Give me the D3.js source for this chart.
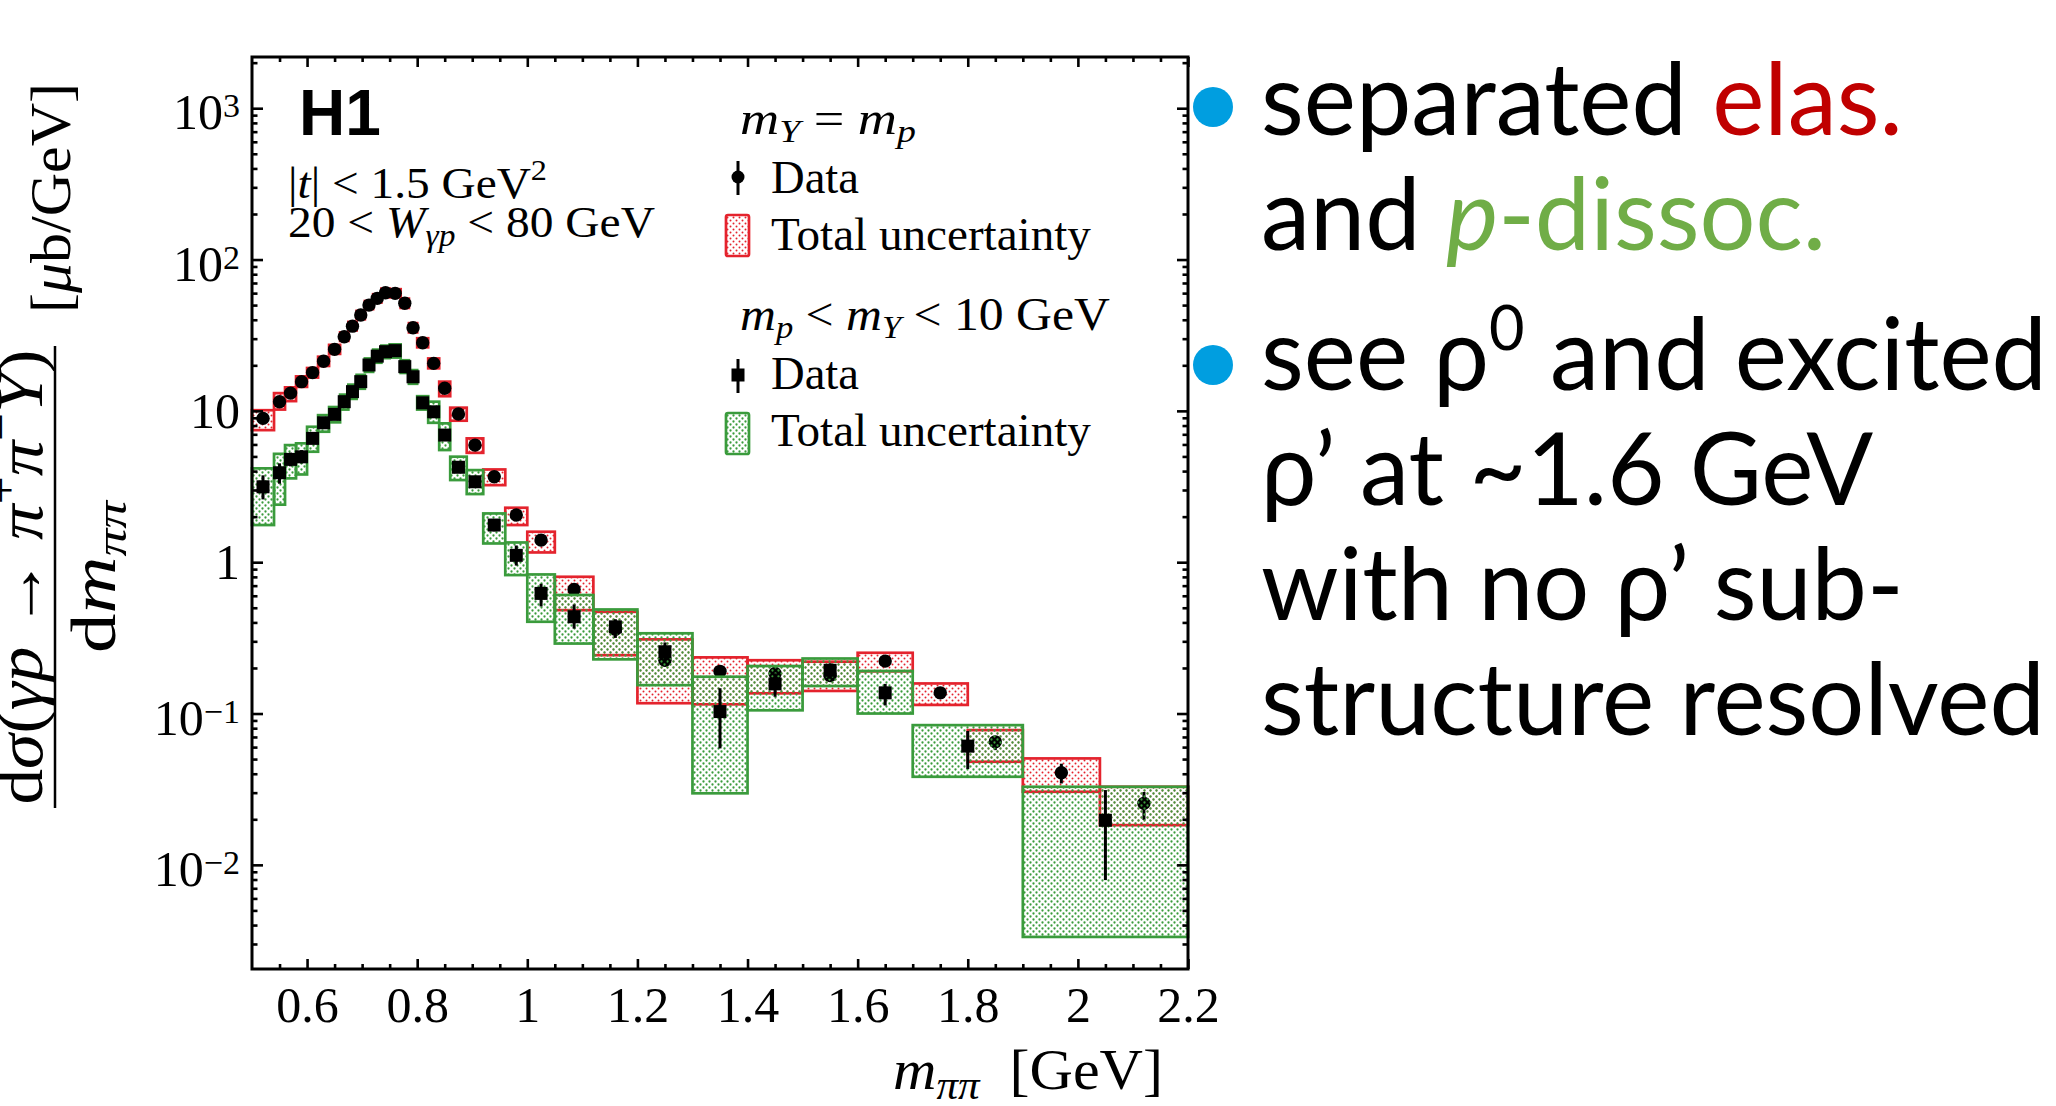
<!DOCTYPE html>
<html><head><meta charset="utf-8">
<script src="https://cdn.jsdelivr.net/npm/d3@7"></script>
<style>body{margin:0;background:#fff;} svg{display:block;} text{white-space:pre;}</style>
</head><body>
<svg id="c" width="2056" height="1106"></svg>
<script>
// ---------------- data ----------------
const xTickValues = [0.6, 0.8, 1.0, 1.2, 1.4, 1.6, 1.8, 2.0, 2.2];
const xTickLabels = ["0.6", "0.8", "1", "1.2", "1.4", "1.6", "1.8", "2", "2.2"];
const yTickValues = [0.01, 0.1, 1, 10, 100, 1000];
const yTickBase   = ["10", "10", "1", "10", "10", "10"];
const yTickExp    = ["\u22122", "\u22121", "", "", "2", "3"];

// elastic  (m_Y = m_p)
const elasBinLo = [0.50,0.54,0.56,0.58,0.60,0.62,0.64,0.66,0.675,0.69,0.705,0.72,0.735,0.75,0.77,0.785,0.80,0.82,0.84,0.86,0.89,0.92,0.96,1.00,1.05,1.12,1.20,1.30,1.40,1.50,1.60,1.70,1.80,1.90,2.04];
const elasBinHi = [0.54,0.56,0.58,0.60,0.62,0.64,0.66,0.675,0.69,0.705,0.72,0.735,0.75,0.77,0.785,0.80,0.82,0.84,0.86,0.89,0.92,0.96,1.00,1.05,1.12,1.20,1.30,1.40,1.50,1.60,1.70,1.80,1.90,2.04,2.20];
const elasValue = [8.92,11.5,13.1,15.6,17.9,21.3,25.5,30.9,36.3,43.0,50.0,55.4,60.4,59.8,51.4,35.4,28.2,20.6,14.1,9.53,5.94,3.67,2.05,1.40,0.661,0.36,0.225,0.19,0.184,0.178,0.222,0.137,0.065,0.0406,0.0255];
const elasStatLo = [8.5,11.1,12.7,15.2,17.5,20.9,25.0,30.4,35.7,42.4,49.3,54.7,59.6,59.0,50.6,34.8,27.6,20.1,13.7,9.2,5.7,3.5,1.95,1.32,0.61,0.33,0.205,0.172,0.168,0.164,0.205,0.125,0.0573,0.0345,0.0198];
const elasStatHi = [9.3,11.9,13.5,16.0,18.3,21.7,26.0,31.4,36.9,43.6,50.7,56.1,61.2,60.6,52.2,36.0,28.8,21.1,14.5,9.86,6.2,3.84,2.15,1.48,0.71,0.39,0.245,0.208,0.2,0.192,0.24,0.149,0.0699,0.0466,0.0303];
const elasTotLo = [7.46,10.2,11.6,14.4,16.6,19.8,23.8,29.0,34.0,40.3,47.0,52.0,56.8,56.2,47.9,33.0,26.3,19.1,12.5,8.61,5.28,3.23,1.76,1.16,0.482,0.243,0.117,0.115,0.136,0.141,0.19,0.114,0.048,0.0304,0.0183];
const elasTotHi = [10.1,13.1,14.3,16.9,19.2,22.8,27.3,33.0,38.7,45.8,53.2,59.0,64.3,63.7,55.2,38.0,30.2,22.2,15.6,10.5,6.58,4.10,2.29,1.59,0.801,0.470,0.309,0.235,0.225,0.220,0.252,0.158,0.0777,0.0505,0.0328];

// proton dissociative  (m_p < m_Y < 10 GeV)
const dissBinLo = [0.50,0.54,0.56,0.58,0.60,0.62,0.64,0.66,0.675,0.69,0.705,0.72,0.735,0.75,0.77,0.785,0.80,0.82,0.84,0.86,0.89,0.92,0.96,1.00,1.05,1.12,1.20,1.30,1.40,1.50,1.60,1.70,1.90];
const dissBinHi = [0.54,0.56,0.58,0.60,0.62,0.64,0.66,0.675,0.69,0.705,0.72,0.735,0.75,0.77,0.785,0.80,0.82,0.84,0.86,0.89,0.92,0.96,1.00,1.05,1.12,1.20,1.30,1.40,1.50,1.60,1.70,1.90,2.20];
const dissValue = [3.15,3.9,4.78,4.97,6.58,8.34,9.48,11.5,13.4,15.6,20.1,23.0,24.6,25.0,19.6,16.8,11.3,9.86,6.92,4.24,3.40,1.76,1.11,0.622,0.436,0.374,0.256,0.103,0.157,0.193,0.137,0.0609,0.0197];
const dissStatLo = [2.6,3.3,4.3,4.5,6.1,7.9,9.0,11.0,12.9,15.1,19.5,22.4,24.0,24.4,19.0,16.2,10.8,9.3,6.4,3.9,3.1,1.6,0.95,0.51,0.364,0.316,0.22,0.0588,0.129,0.17,0.113,0.043,0.00793];
const dissStatHi = [3.75,4.5,5.3,5.5,7.1,8.8,10.0,12.0,13.9,16.1,20.7,23.6,25.2,25.6,20.2,17.4,11.8,10.4,7.5,4.6,3.7,1.93,1.29,0.72,0.525,0.42,0.295,0.147,0.184,0.215,0.157,0.0767,0.0312];
const dissTotLo = [1.76,2.4,3.58,3.8,5.37,7.28,8.4,10.2,12.0,14.0,18.1,20.8,22.3,22.5,17.8,15.1,10.2,8.34,5.51,3.49,2.82,1.33,0.822,0.404,0.290,0.228,0.154,0.0297,0.105,0.152,0.100,0.0382,0.00334];
const dissTotHi = [4.17,5.2,5.94,6.1,7.85,9.37,10.6,12.8,14.9,17.3,22.2,25.4,27.0,27.5,21.6,18.6,12.5,11.5,8.27,4.98,4.06,2.10,1.35,0.83,0.607,0.487,0.339,0.175,0.206,0.231,0.191,0.0838,0.0328];

// ---------------- setup ----------------
const RED = "#e4232d", GREEN = "#3a9b3c", SERIF = "'Liberation Serif','Times New Roman',serif";
const svg = d3.select("#c");
const X0 = 252, X1 = 1188, Y0 = 57, Y1 = 969;
const x = d3.scaleLinear().domain([0.5, 2.2]).range([X0, X1]);
const y = d3.scaleLog().domain([0.00205, 2180]).range([Y1, Y0]);

const defs = svg.append("defs");
function dotPattern(id, col, r) {
  const p = defs.append("pattern").attr("id", id).attr("patternUnits", "userSpaceOnUse")
    .attr("width", 6).attr("height", 6);
  p.append("circle").attr("cx", 1.5).attr("cy", 1.5).attr("r", r).attr("fill", col);
  p.append("circle").attr("cx", 4.5).attr("cy", 4.5).attr("r", r).attr("fill", col);
}
dotPattern("dotR", RED, 1.0);
dotPattern("dotG", GREEN, 1.15);

function rows(lo, hi, v, sl, sh, tl, th) {
  return v.map((d, i) => ({lo: lo[i], hi: hi[i], v: d, sl: sl[i], sh: sh[i], tl: tl[i], th: th[i]}));
}
const elas = rows(elasBinLo, elasBinHi, elasValue, elasStatLo, elasStatHi, elasTotLo, elasTotHi);
const diss = rows(dissBinLo, dissBinHi, dissValue, dissStatLo, dissStatHi, dissTotLo, dissTotHi);

const plot = svg.append("g");
function drawBoxes(data, col, pat) {
  plot.append("g").selectAll("rect").data(data).join("rect")
    .attr("x", d => x(d.lo)).attr("width", d => x(d.hi) - x(d.lo))
    .attr("y", d => y(d.th)).attr("height", d => y(d.tl) - y(d.th))
    .attr("fill", `url(#${pat})`).attr("stroke", col).attr("stroke-width", 2.7);
}
function drawBars(data) {
  plot.append("g").selectAll("line").data(data).join("line")
    .attr("x1", d => x((d.lo + d.hi) / 2)).attr("x2", d => x((d.lo + d.hi) / 2))
    .attr("y1", d => y(d.sh)).attr("y2", d => y(d.sl))
    .attr("stroke", "#000").attr("stroke-width", 3);
}
drawBoxes(elas, RED, "dotR");
drawBars(elas);
plot.append("g").selectAll("circle").data(elas).join("circle")
  .attr("cx", d => x((d.lo + d.hi) / 2)).attr("cy", d => y(d.v)).attr("r", 6.7).attr("fill", "#000");
drawBoxes(diss, GREEN, "dotG");
drawBars(diss);
plot.append("g").selectAll("rect").data(diss).join("rect")
  .attr("x", d => x((d.lo + d.hi) / 2) - 6.5).attr("y", d => y(d.v) - 6.5)
  .attr("width", 13).attr("height", 13).attr("fill", "#000");

// ---------------- axes ----------------
const xMinor = d3.range(0.55, 2.2, 0.05).filter(v => Math.abs(v * 5 - Math.round(v * 5)) > 1e-6);
const yMinor = [];
for (let e = -3; e <= 3; e++) for (let k = 2; k <= 9; k++) { const v = k * Math.pow(10, e); if (v > 0.00205 && v < 2180) yMinor.push(v); }

function styleAxis(g) {
  g.select(".domain").remove();
  g.selectAll("line").attr("stroke", "#000").attr("stroke-width", 2.6);
}
svg.append("g").attr("transform", `translate(0,${Y1})`)
  .call(d3.axisBottom(x).tickValues(xTickValues).tickSize(-10).tickPadding(17).tickFormat((d, i) => xTickLabels[i]))
  .call(styleAxis)
  .call(g => g.selectAll("text").attr("font-family", SERIF).attr("font-size", 50).attr("fill", "#000"));
svg.append("g").attr("transform", `translate(0,${Y1})`).call(d3.axisBottom(x).tickValues(xMinor).tickSize(-5).tickFormat("")).call(styleAxis);
svg.append("g").attr("transform", `translate(0,${Y0})`).call(d3.axisTop(x).tickValues(xTickValues).tickSize(-10).tickFormat("")).call(styleAxis);
svg.append("g").attr("transform", `translate(0,${Y0})`).call(d3.axisTop(x).tickValues(xMinor).tickSize(-5).tickFormat("")).call(styleAxis);
svg.append("g").attr("transform", `translate(${X0},0)`).call(d3.axisLeft(y).tickValues(yTickValues).tickSize(-11).tickFormat("")).call(styleAxis);
svg.append("g").attr("transform", `translate(${X0},0)`).call(d3.axisLeft(y).tickValues(yMinor).tickSize(-5.5).tickFormat("")).call(styleAxis);
svg.append("g").attr("transform", `translate(${X1},0)`).call(d3.axisRight(y).tickValues(yTickValues).tickSize(-11).tickFormat("")).call(styleAxis);
svg.append("g").attr("transform", `translate(${X1},0)`).call(d3.axisRight(y).tickValues(yMinor).tickSize(-5.5).tickFormat("")).call(styleAxis);

svg.append("rect").attr("x", X0).attr("y", Y0).attr("width", X1 - X0).attr("height", Y1 - Y0)
  .attr("fill", "none").attr("stroke", "#000").attr("stroke-width", 3);

// y tick labels
const yl = svg.append("g").attr("font-family", SERIF).attr("font-size", 50).attr("text-anchor", "end");
yTickValues.forEach((v, i) => {
  const t = yl.append("text").attr("x", 240).attr("y", y(v) + 17 + (yTickExp[i] ? 4 : 0));
  t.append("tspan").text(yTickBase[i]);
  if (yTickExp[i]) t.append("tspan").attr("font-size", 34).attr("dy", -12).text(yTickExp[i]);
});

// ---------------- text helper ----------------
function rich(parent, o) {
  const g = parent.append("g").attr("transform", `translate(${o.x},${o.y})` + (o.rot ? ` rotate(${o.rot})` : ""));
  const t = g.append("text").attr("text-anchor", o.anchor || "start")
    .attr("font-family", o.family || SERIF).attr("font-size", o.size).attr("fill", "#000");
  if (o.weight) t.attr("font-weight", o.weight);
  o.parts.forEach(p => {
    const s = t.append("tspan").text(p.t);
    if (p.i) s.attr("font-style", "italic");
    if (p.s) s.attr("font-size", p.s);
    if (p.dy) s.attr("dy", p.dy);
    if (p.fill) s.attr("fill", p.fill);
  });
  const w = t.node().getComputedTextLength();
  const k = o.fit ? o.fit / w : (o.k || 1);
  if (k !== 1) t.attr("transform", `scale(${k},1)`);
  return {t, w, k};
}

// axis titles
rich(svg, {x: 893, y: 1089, size: 56, fit: 270, parts: [
  {t: "m", i: 1}, {t: "ππ", i: 1, s: 40, dy: 10}, {t: "  [GeV]", dy: -10}]});
// y title: numerator / fraction line / denominator / units
rich(svg, {x: 42, y: 577, rot: -90, anchor: "middle", size: 66, fit: 455, parts: [
  {t: "d"}, {t: "σ", i: 1}, {t: "("}, {t: "γp", i: 1}, {t: " → "}, {t: "π", i: 1},
  {t: "+", s: 46, dy: -26}, {t: "π", i: 1, dy: 26}, {t: "−", s: 46, dy: -26}, {t: "Y", i: 1, dy: 26}, {t: ")"}]});
svg.append("line").attr("x1", 55).attr("x2", 55).attr("y1", 346).attr("y2", 808).attr("stroke", "#000").attr("stroke-width", 2.5);
rich(svg, {x: 115, y: 577, rot: -90, anchor: "middle", size: 64, fit: 152, parts: [
  {t: "d"}, {t: "m", i: 1}, {t: "ππ", i: 1, s: 45, dy: 11}]});
rich(svg, {x: 70, y: 198, rot: -90, anchor: "middle", size: 56, fit: 230, parts: [
  {t: "["}, {t: "μ", i: 1}, {t: "b/GeV]"}]});

// annotations inside plot
rich(svg, {x: 299, y: 135, size: 64, weight: "bold", family: "'Liberation Sans',Arial,sans-serif", parts: [{t: "H1"}]});
rich(svg, {x: 288, y: 198, size: 44, fit: 259, parts: [
  {t: "|"}, {t: "t", i: 1}, {t: "| < 1.5 GeV"}, {t: "2", s: 30, dy: -18}]});
rich(svg, {x: 288, y: 237, size: 44, fit: 367, parts: [
  {t: "20 < "}, {t: "W", i: 1}, {t: "γp", i: 1, s: 31, dy: 9}, {t: " < 80 GeV", dy: -9}]});

// legend
const leg = svg.append("g");
rich(leg, {x: 740, y: 134, size: 46, fit: 176, parts: [
  {t: "m", i: 1}, {t: "Y", i: 1, s: 32, dy: 8}, {t: " = ", dy: -8}, {t: "m", i: 1}, {t: "p", i: 1, s: 32, dy: 8}]});
rich(leg, {x: 740, y: 330, size: 46, fit: 370, parts: [
  {t: "m", i: 1}, {t: "p", i: 1, s: 32, dy: 8}, {t: " < ", dy: -8}, {t: "m", i: 1}, {t: "Y", i: 1, s: 32, dy: 8}, {t: " < 10 GeV", dy: -8}]});
[193, 389].forEach(b => rich(leg, {x: 771, y: b, size: 46, fit: 88, parts: [{t: "Data"}]}));
[250, 446].forEach(b => rich(leg, {x: 771, y: b, size: 46, fit: 320, parts: [{t: "Total uncertainty"}]}));
leg.append("line").attr("x1", 738).attr("x2", 738).attr("y1", 161).attr("y2", 195).attr("stroke", "#000").attr("stroke-width", 3);
leg.append("circle").attr("cx", 738).attr("cy", 177).attr("r", 6.5).attr("fill", "#000");
leg.append("line").attr("x1", 738).attr("x2", 738).attr("y1", 359).attr("y2", 393).attr("stroke", "#000").attr("stroke-width", 3);
leg.append("rect").attr("x", 731.5).attr("y", 368.5).attr("width", 13).attr("height", 13).attr("fill", "#000");
leg.append("rect").attr("x", 726).attr("y", 215).attr("width", 23).attr("height", 41).attr("rx", 2)
  .attr("fill", "url(#dotR)").attr("stroke", RED).attr("stroke-width", 2.7);
leg.append("rect").attr("x", 726).attr("y", 413).attr("width", 23).attr("height", 41).attr("rx", 2)
  .attr("fill", "url(#dotG)").attr("stroke", GREEN).attr("stroke-width", 2.7);

// ---------------- slide bullets ----------------
const SANS = "Lato,'Open Sans',sans-serif";
const side = svg.append("g");
side.selectAll("circle.b").data([107, 365]).join("circle").attr("class", "b")
  .attr("cx", 1213).attr("cy", d => d).attr("r", 20).attr("fill", "#009ee0");
const lines = [
  {y: 135, parts: [{t: "separated "}, {t: "elas.", fill: "#c00000"}]},
  {y: 250, parts: [{t: "and "}, {t: "p", i: 1, fill: "#70ad47"}, {t: "-dissoc.", fill: "#70ad47"}]},
  {y: 390, parts: [{t: "see ρ"}, {t: "0", s: 62, dy: -40}, {t: " and excited", dy: 40}]},
  {y: 505, parts: [{t: "ρ’ at ~1.6 GeV"}]},
  {y: 620, parts: [{t: "with no ρ’ sub-"}]},
  {y: 735, parts: [{t: "structure resolved"}]}
];
const first = rich(side, {x: 1261, y: lines[0].y, size: 100, family: SANS, fit: 642, parts: lines[0].parts});
lines.slice(1).forEach(l => rich(side, {x: 1261, y: l.y, size: 100, family: SANS, k: first.k, parts: l.parts}));
</script>
</body></html>
